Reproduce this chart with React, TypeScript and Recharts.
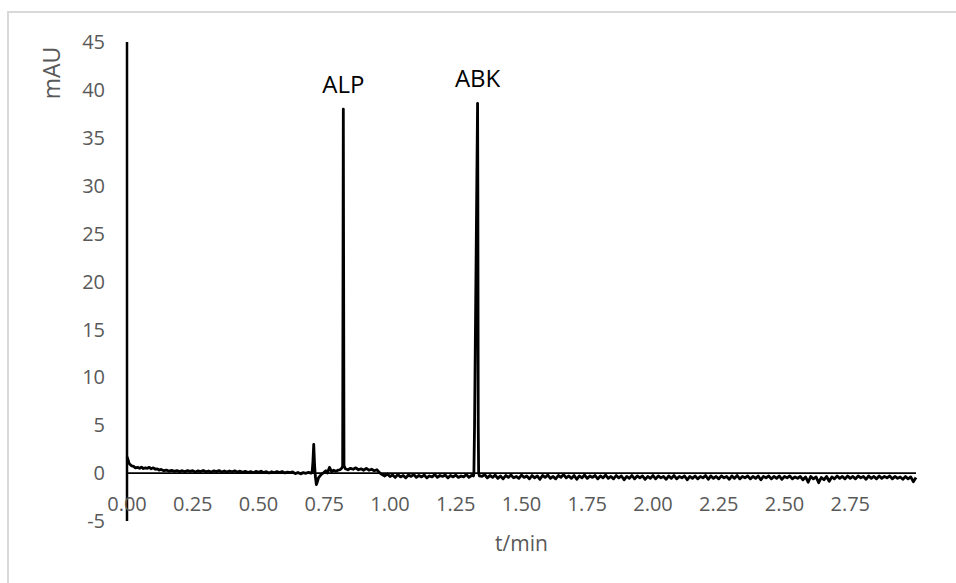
import React from "react";
import {
  LineChart,
  Line,
  XAxis,
  YAxis,
  ReferenceLine,
  ReferenceDot,
} from "recharts";

// retention time (min) and detector signal (mAU)
const times = [
  0.0, 0.004, 0.008, 0.012, 0.018, 0.025, 0.032, 0.04, 0.048, 0.055, 0.062, 0.07, 0.078, 0.085, 0.092,
  0.1, 0.108, 0.115, 0.122, 0.13, 0.14, 0.15, 0.16, 0.17, 0.18, 0.19, 0.2, 0.21, 0.22, 0.23,
  0.24, 0.25, 0.26, 0.27, 0.28, 0.29, 0.3, 0.31, 0.32, 0.33, 0.34, 0.35, 0.36, 0.37, 0.38,
  0.39, 0.4, 0.41, 0.42, 0.43, 0.44, 0.45, 0.46, 0.47, 0.48, 0.49, 0.5, 0.51, 0.52, 0.53,
  0.54, 0.55, 0.56, 0.57, 0.58, 0.59, 0.6, 0.61, 0.62, 0.63, 0.64, 0.65, 0.66, 0.67, 0.68,
  0.69, 0.7, 0.704, 0.707, 0.71, 0.713, 0.716, 0.72, 0.724, 0.728, 0.734, 0.74, 0.748, 0.756, 0.762,
  0.77, 0.778, 0.786, 0.794, 0.802, 0.81, 0.816, 0.82, 0.8225, 0.825, 0.83, 0.84, 0.85, 0.86, 0.87,
  0.88, 0.89, 0.9, 0.91, 0.92, 0.93, 0.94, 0.95, 0.96, 0.97,
  0.98, 0.99, 1.0, 1.01, 1.02, 1.03, 1.04, 1.05, 1.06, 1.07, 1.08, 1.09,
  1.1, 1.11, 1.12, 1.13, 1.14, 1.15, 1.16, 1.17, 1.18, 1.19,
  1.2, 1.21, 1.22, 1.23, 1.24, 1.25, 1.26, 1.27, 1.28, 1.29,
  1.3, 1.31, 1.3175, 1.319, 1.3215, 1.33, 1.333, 1.334, 1.3355, 1.337, 1.34,
  1.35, 1.36, 1.37, 1.38, 1.39, 1.4, 1.41, 1.42, 1.43, 1.44,
  1.45, 1.46, 1.47, 1.48, 1.49, 1.5, 1.51, 1.52, 1.53, 1.54,
  1.55, 1.56, 1.57, 1.58, 1.59, 1.6, 1.61, 1.62, 1.63, 1.64,
  1.65, 1.66, 1.67, 1.68, 1.69, 1.7, 1.71, 1.72, 1.73, 1.74,
  1.75, 1.76, 1.77, 1.78, 1.79, 1.8, 1.81, 1.82, 1.83, 1.84,
  1.85, 1.86, 1.87, 1.88, 1.89, 1.9, 1.91, 1.92, 1.93, 1.94,
  1.95, 1.96, 1.97, 1.98, 1.99, 2.0, 2.01, 2.02, 2.03, 2.04,
  2.05, 2.06, 2.07, 2.08, 2.09, 2.1, 2.11, 2.12, 2.13, 2.14,
  2.15, 2.16, 2.17, 2.18, 2.19, 2.2, 2.21, 2.22, 2.23, 2.24,
  2.25, 2.26, 2.27, 2.28, 2.29, 2.3, 2.31, 2.32, 2.33, 2.34,
  2.35, 2.36, 2.37, 2.38, 2.39, 2.4, 2.41, 2.42, 2.43, 2.44,
  2.45, 2.46, 2.47, 2.48, 2.49, 2.5, 2.51, 2.52, 2.53, 2.54,
  2.55, 2.56, 2.57, 2.58, 2.59, 2.6, 2.61, 2.62, 2.63, 2.64,
  2.65, 2.66, 2.67, 2.68, 2.69, 2.7, 2.71, 2.72, 2.73, 2.74,
  2.75, 2.76, 2.77, 2.78, 2.79, 2.8, 2.81, 2.82, 2.83, 2.84,
  2.85, 2.86, 2.87, 2.88, 2.89, 2.9, 2.91, 2.92, 2.93, 2.94,
  2.95, 2.96, 2.97, 2.98, 2.99, 3.0,
];

const signal = [
  1.7, 1.4, 1.0, 0.9, 0.75, 0.7, 0.55, 0.6, 0.5, 0.62, 0.48, 0.55, 0.5, 0.6, 0.45,
  0.55, 0.4, 0.45, 0.32, 0.38, 0.25, 0.32, 0.2, 0.28, 0.18, 0.26, 0.16, 0.25, 0.14, 0.26,
  0.18, 0.25, 0.12, 0.24, 0.16, 0.27, 0.14, 0.22, 0.1, 0.24, 0.15, 0.26, 0.12, 0.22, 0.1,
  0.22, 0.14, 0.24, 0.1, 0.2, 0.08, 0.18, 0.06, 0.16, 0.04, 0.18, 0.08, 0.2, 0.05, 0.15,
  0.02, 0.14, 0.04, 0.15, 0.05, 0.16, 0.02, 0.1, 0.04, 0.12, -0.05, 0.06, -0.08, 0.05, -0.02,
  0.08, 0.0, 0.1, 1.2, 3.0, 1.0, -0.3, -1.2, -0.9, -0.5, -0.3, -0.1, 0.05, 0.25, 0.0,
  0.6, 0.15, 0.3, 0.2, 0.3, 0.35, 0.5, 0.7, 38.0, 0.8, 0.45, 0.35, 0.5, 0.4, 0.55,
  0.35, 0.45, 0.3, 0.5, 0.3, 0.4, 0.25, 0.35, 0.05, -0.15,
  -0.3, -0.1, -0.35, -0.2, -0.45, -0.15, -0.4, -0.25, -0.5, -0.2, -0.35, -0.15,
  -0.45, -0.25, -0.4, -0.2, -0.5, -0.3, -0.4, -0.15, -0.45, -0.25,
  -0.35, -0.2, -0.5, -0.25, -0.4, -0.2, -0.45, -0.3, -0.4, -0.15,
  -0.45, -0.25, -0.3, 0.0, 5.0, 30.0, 38.6, 30.0, 5.0, 0.0, -0.3,
  -0.35, -0.15, -0.5, -0.25, -0.45, -0.2, -0.55, -0.3, -0.6, -0.25,
  -0.45, -0.2, -0.5, -0.35, -0.55, -0.2, -0.45, -0.3, -0.6, -0.25,
  -0.5, -0.3, -0.65, -0.25, -0.45, -0.2, -0.55, -0.35, -0.6, -0.25,
  -0.45, -0.15, -0.5, -0.3, -0.55, -0.25, -0.65, -0.3, -0.5, -0.2,
  -0.55, -0.3, -0.45, -0.25, -0.6, -0.3, -0.5, -0.2, -0.55, -0.35,
  -0.6, -0.25, -0.5, -0.3, -0.7, -0.35, -0.55, -0.25, -0.6, -0.3,
  -0.5, -0.3, -0.65, -0.35, -0.55, -0.25, -0.6, -0.3, -0.5, -0.35,
  -0.65, -0.3, -0.55, -0.25, -0.6, -0.35, -0.5, -0.3, -0.7, -0.35,
  -0.55, -0.3, -0.6, -0.35, -0.5, -0.25, -0.65, -0.3, -0.55, -0.35,
  -0.6, -0.3, -0.5, -0.35, -0.65, -0.3, -0.55, -0.25, -0.6, -0.35,
  -0.5, -0.3, -0.6, -0.35, -0.55, -0.3, -0.7, -0.35, -0.5, -0.3,
  -0.6, -0.35, -0.55, -0.3, -0.65, -0.35, -0.5, -0.3, -0.6, -0.4,
  -0.55, -0.35, -0.7, -0.4, -0.95, -0.35, -0.6, -0.4, -1.0, -0.45,
  -0.7, -0.35, -0.85, -0.4, -0.6, -0.3, -0.55, -0.35, -0.6, -0.3,
  -0.55, -0.35, -0.6, -0.3, -0.5, -0.35, -0.65, -0.3, -0.55, -0.35,
  -0.6, -0.3, -0.55, -0.35, -0.5, -0.3, -0.6, -0.35, -0.55, -0.4,
  -0.65, -0.35, -0.6, -0.4, -0.9, -0.45,
];

const xTicks = [0, 0.25, 0.5, 0.75, 1.0, 1.25, 1.5, 1.75, 2.0, 2.25, 2.5, 2.75];
const yTicks = [-5, 0, 5, 10, 15, 20, 25, 30, 35, 40, 45];

const peakNames = ["ALP", "ABK"];
const peakTimes = [0.8225, 1.333];
const peakHeights = [38.0, 38.6];

const data = times.map((t, i) => ({ t, mAU: signal[i] }));

const FONT = "'Open Sans', 'Noto Sans', sans-serif";
const GRAY = "#595959";
const FRAME = "#d9d9d9";

const XTick = (props: any) => {
  const { x, y, payload } = props;
  return (
    <text x={x} y={y - 10} textAnchor="middle" fill={GRAY} fontSize={20} fontFamily={FONT}>
      {Number(payload.value).toFixed(2)}
    </text>
  );
};

const YTitle = (props: any) => {
  const { viewBox } = props;
  const cx = viewBox.x - 16;
  const cy = viewBox.y + 31;
  return (
    <text
      x={cx}
      y={cy}
      transform={`rotate(-90, ${cx}, ${cy})`}
      textAnchor="middle"
      dominantBaseline="central"
      fill={GRAY}
      fontSize={23}
      fontFamily={FONT}
    >
      mAU
    </text>
  );
};

const XTitle = (props: any) => {
  const { viewBox } = props;
  const cx = viewBox.x + viewBox.width / 2;
  const cy = viewBox.y + 22;
  return (
    <text
      x={cx}
      y={cy}
      textAnchor="middle"
      dominantBaseline="central"
      fill={GRAY}
      fontSize={21}
      fontFamily={FONT}
    >
      t/min
    </text>
  );
};

export default function App() {
  return (
    <>
      {/* chart frame: only top and left edges show in the picture */}
      <div style={{ position: "fixed", left: 7, top: 11, right: 0, height: 2, background: FRAME }} />
      <div style={{ position: "fixed", left: 7, top: 11, bottom: 0, width: 2, background: FRAME }} />
      <div style={{ margin: "5px 0 0 1px", width: 930, height: 560 }}>
        <LineChart
          width={930}
          height={560}
          data={data}
          margin={{ top: 29, right: 23, bottom: 22, left: 58 }}
          style={{ fontFamily: FONT }}
        >
          <XAxis
            dataKey="t"
            type="number"
            domain={[0, 3]}
            ticks={xTicks}
            axisLine={false}
            tickLine={false}
            tickSize={0}
            tickMargin={0}
            height={30}
            interval={0}
            tick={<XTick />}
            label={(p: any) => <XTitle {...p} />}
          />
          <YAxis
            type="number"
            domain={[-5, 45]}
            ticks={yTicks}
            width={60}
            axisLine={{ stroke: "#000", strokeWidth: 2.5 }}
            tickLine={false}
            tickSize={0}
            tickMargin={22}
            interval={0}
            tick={{ fill: GRAY, fontSize: 20, fontFamily: FONT }}
            label={(p: any) => <YTitle {...p} />}
          />
          <ReferenceLine y={0} stroke="#000" strokeWidth={1.8} />
          <Line
            type="linear"
            dataKey="mAU"
            stroke="#000"
            strokeWidth={2.8}
            dot={false}
            activeDot={false}
            isAnimationActive={false}
            strokeLinejoin="round"
          />
          {peakNames.map((name, i) => (
            <ReferenceDot
              key={name}
              x={peakTimes[i]}
              y={peakHeights[i]}
              r={0}
              fill="none"
              stroke="none"
              ifOverflow="visible"
              label={{
                value: name,
                position: "top",
                offset: 16,
                fill: "#000",
                fontSize: 24,
                fontFamily: FONT,
              }}
            />
          ))}
        </LineChart>
      </div>
    </>
  );
}
